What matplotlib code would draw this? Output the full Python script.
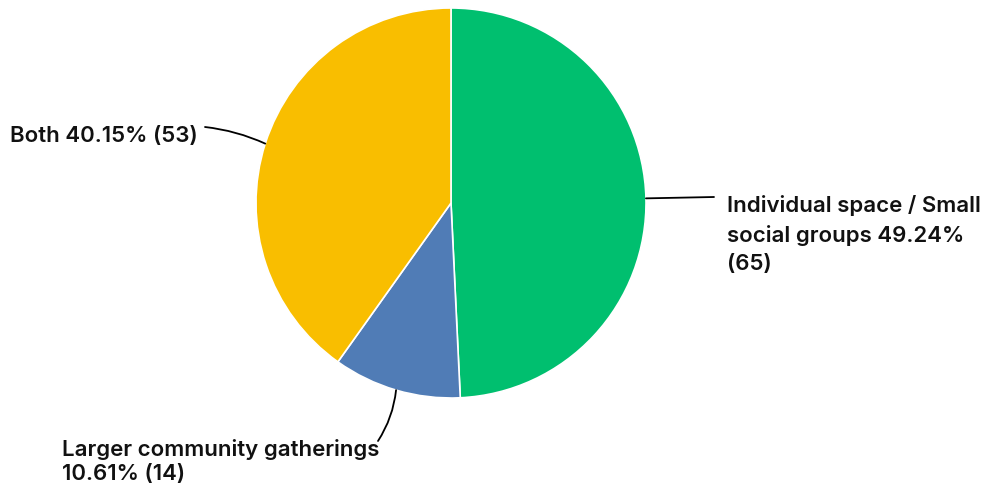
import numpy as np
import matplotlib
matplotlib.use('Agg')
import matplotlib.pyplot as plt

# data
labels = ['Individual space / Small\nsocial groups 49.24%\n(65)',
          'Larger community gatherings\n10.61% (14)',
          'Both 40.15% (53)']
counts = [65, 14, 53]
colors = ['#00BF6F', '#507CB6', '#F9BE00']

W, H = 990, 488
cx, cy, r = 451, H - 203, 195

fig = plt.figure(figsize=(9.9, 4.88), dpi=100)
ax = fig.add_axes([0, 0, 1, 1])

wedges, _ = ax.pie(counts, colors=colors, startangle=90, counterclock=False,
                   center=(cx, cy), radius=r, frame=True,
                   wedgeprops=dict(edgecolor='white', linewidth=1.2))
ax.set_xlim(0, W)
ax.set_ylim(0, H)
ax.set_aspect('equal')
ax.axis('off')

# label text position, line end, curvature, line spacing
opts = [
    dict(txt=(727, H - 195), va='top', end=(714, H - 197), rad=0.0, ls=1.52),
    dict(txt=(62, H - 439), va='top', end=(378, H - 441), rad=0.12, ls=1.26),
    dict(txt=(10, H - 136), va='center', end=(205, H - 127), rad=-0.08, ls=1.2),
]

font = dict(family='Inter', fontsize=16, weight='semibold', color='#111111')
for w, lab, o in zip(wedges, labels, opts):
    ang = np.deg2rad((w.theta1 + w.theta2) / 2)
    edge = (cx + r * np.cos(ang), cy + r * np.sin(ang))
    ax.annotate('', xy=edge, xytext=o['end'],
                arrowprops=dict(arrowstyle='-', color='black', lw=1.3,
                                shrinkA=0, shrinkB=0,
                                connectionstyle='arc3,rad=%s' % o['rad']))
    ax.text(o['txt'][0], o['txt'][1], lab, ha='left', va=o['va'],
            linespacing=o['ls'], **font)

fig.savefig('out.png', dpi=100)
